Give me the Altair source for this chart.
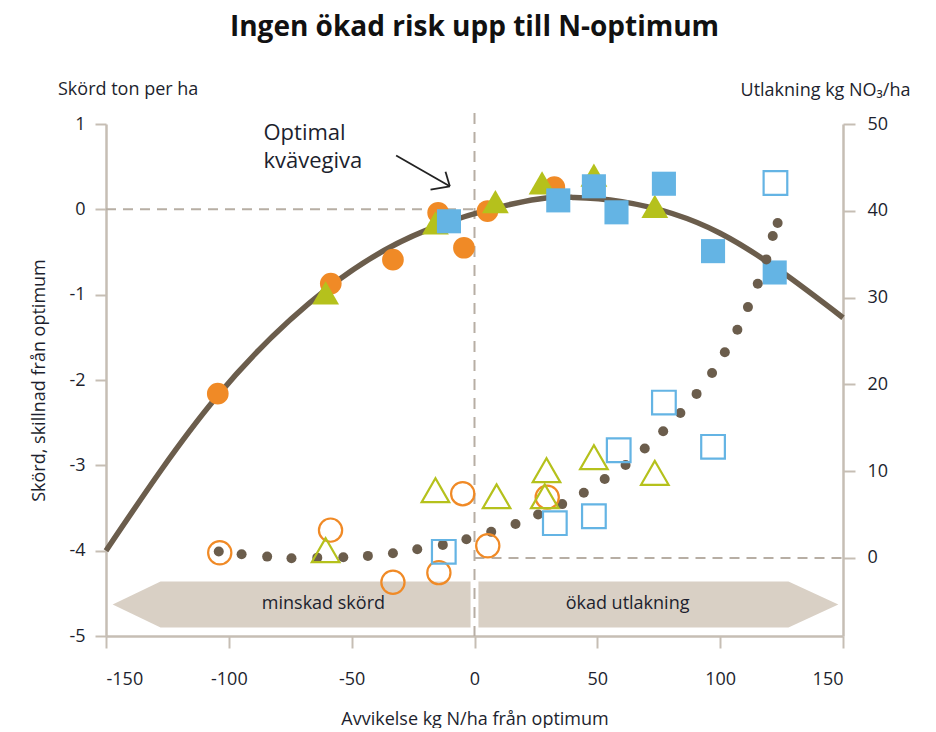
import altair as alt
import pandas as pd

# ---------------- data ----------------
# yield response curve (left axis, ton/ha difference from optimum)
curve_x = [-150, -105, -60, -20, 20, 40, 60, 100, 150]
curve_y = [-4.0, -2.2, -0.93, -0.25, 0.09, 0.14, 0.09, -0.28, -1.27]

# filled markers: yield (left axis)
orange_yield_x = [-104.5, -58.5, -33.2, -14.8, -4.3, 5.3, 32.5]
orange_yield_y = [-2.16, -0.87, -0.59, -0.04, -0.45, -0.02, 0.26]
green_yield_x = [-60.6, -15.9, 8.5, 27.5, 48.6, 73.4]
green_yield_y = [-0.98, -0.16, 0.09, 0.31, 0.40, 0.035]
blue_yield_x = [-10.4, 34.1, 48.6, 57.8, 77.1, 97.1, 122.2]
blue_yield_y = [-0.14, 0.105, 0.27, -0.035, 0.30, -0.49, -0.74]

# hollow markers: leaching (right axis, kg NO3/ha)
orange_leach_x = [-103.7, -58.6, -33.2, -14.5, -4.8, 5.4, 29.6]
orange_leach_y = [0.6, 3.2, -2.8, -1.7, 7.4, 1.4, 7.0]
green_leach_x = [-60.6, -15.9, 9.0, 29.3, 28.6, 48.6, 73.4]
green_leach_y = [0.9, 7.8, 7.1, 10.1, 7.1, 11.6, 9.8]
blue_leach_x = [-12.5, 32.7, 48.6, 58.7, 77.1, 97.1, 122.5]
blue_leach_y = [0.7, 4.0, 4.8, 12.4, 17.9, 12.8, 43.2]

# leaching model (dotted)
dots_x = [-104.1, -94.8, -84.4, -74.5, -64.0, -53.4, -43.4, -33.2, -23.3, -12.9, -3.3, 6.8,
          16.7, 25.9, 35.7, 44.5, 53.0, 61.5, 69.3, 76.8, 83.8, 90.4, 96.7, 101.9, 107.0,
          111.3, 115.3, 118.8, 121.4, 123.4]
dots_y = [0.73, 0.42, 0.15, -0.04, 0.03, 0.07, 0.23, 0.54, 1.0, 1.5, 2.15, 3.0,
          3.9, 5.0, 6.2, 7.5, 9.1, 10.7, 12.6, 14.6, 16.7, 18.9, 21.3, 23.7, 26.3,
          28.9, 31.6, 34.4, 37.1, 38.6]

# band arrows at the bottom
arrow_name = ["minskad", "minskad", "minskad", "okad", "okad", "okad"]
arrow_x = [-147.3, -127.8, -1.6, 1.6, 127.8, 148.1]
arrow_top = [-4.63, -4.36, -4.36, -4.36, -4.36, -4.63]
arrow_bot = [-4.63, -4.90, -4.90, -4.90, -4.90, -4.63]
arrow_labels = ["minskad skörd", "ökad utlakning"]
arrow_label_x = [-61.5, 62.3]
arrow_label_y = [-4.63, -4.63]

# annotation
note_text = ["Optimal\nkvävegiva"]
note_x = [-85.9]
note_y = [0.89]
pointer_x = [-31.9, -11.8, -17.9]
pointer_y = [0.63, 0.44, 0.23]
pointer_x2 = [-10.05, -10.05, -10.05]
pointer_y2 = [0.27, 0.27, 0.27]

x_ticks = [-150, -100, -50, 0, 50, 100, 150]
left_ticks = [-5, -4, -3, -2, -1, 0, 1]
right_ticks = [0, 10, 20, 30, 40, 50]

# ---------------- styling ----------------
ORANGE = "#f08a26"
GREEN = "#b5c11c"
BLUE = "#64b4e4"
BROWN = "#6b5d4c"
AXIS_C = "#c6beb4"
DASH_C = "#b7aea4"
BAND_C = "#d9d0c5"
TXT = "#1d1f2e"
FONT = "Open Sans"

xscale = alt.Scale(domain=[-150, 150], nice=False, zero=False)
lscale = alt.Scale(domain=[-5, 1], nice=False, zero=False)
rscale = alt.Scale(domain=[-9, 50], nice=False, zero=False)

xaxis = alt.Axis(values=x_ticks, title="Avvikelse kg N/ha från optimum", grid=False,
                 domainColor=AXIS_C, domainWidth=2.5, tickColor=AXIS_C, tickWidth=2,
                 tickSize=12, labelFontSize=18, labelColor=TXT, labelFont=FONT,
                 labelPadding=22, labelExpr="datum.value + ''",
                 titleFontSize=18, titleFontWeight="normal", titleColor=TXT,
                 titleFont=FONT, titlePadding=22)
laxis = alt.Axis(values=left_ticks, orient="left", title="Skörd, skillnad från optimum",
                 grid=False, domainColor=AXIS_C, domainWidth=2.5, tickColor=AXIS_C,
                 tickWidth=2, tickSize=11, labelFontSize=18, labelColor=TXT,
                 labelFont=FONT, labelPadding=10, labelExpr="datum.value + ''",
                 titleFontSize=18, titleFontWeight="normal", titleColor=TXT,
                 titleFont=FONT, titlePadding=20)
raxis = alt.Axis(values=right_ticks, orient="right", title="Utlakning kg NO₃/ha",
                 grid=False, domainColor=AXIS_C, domainWidth=2.5, tickColor=AXIS_C,
                 tickWidth=2, tickSize=12, labelFontSize=18, labelColor=TXT,
                 labelFont=FONT, labelPadding=12,
                 titleFontSize=18, titleFontWeight="normal", titleColor=TXT,
                 titleFont=FONT, titleAngle=0, titleAlign="right", titleBaseline="middle",
                 titleX=67, titleY=-34)


def X(f):
    return alt.X(f, type="quantitative", scale=xscale, axis=xaxis)


def YL(f):
    return alt.Y(f, type="quantitative", scale=lscale, axis=laxis)


def YR(f):
    return alt.Y(f, type="quantitative", scale=rscale, axis=raxis)


# ---------------- left-axis layer ----------------
band_df = pd.DataFrame({"name": arrow_name, "x": arrow_x, "top": arrow_top, "bot": arrow_bot})
bands = alt.Chart(band_df).mark_area(color=BAND_C, opacity=1).encode(
    x=X("x"), y=YL("top"), y2="bot", detail="name:N")

band_txt = alt.Chart(pd.DataFrame({"t": arrow_labels, "x": arrow_label_x, "y": arrow_label_y})).mark_text(
    font=FONT, fontSize=18, color=TXT, baseline="middle", align="center").encode(
    x=X("x"), y=YL("y"), text="t:N")

hdash = alt.Chart(pd.DataFrame({"x": [-150], "x2": [0], "y": [0]})).mark_rule(
    color=DASH_C, strokeWidth=2, strokeDash=[10, 7]).encode(x=X("x"), x2="x2", y=YL("y"))
vdash = alt.Chart(pd.DataFrame({"x": [0], "y": [1.13], "y2": [-5]})).mark_rule(
    color=DASH_C, strokeWidth=2, strokeDash=[11, 8]).encode(x=X("x"), y=YL("y"), y2="y2")

curve = alt.Chart(pd.DataFrame({"x": curve_x, "y": curve_y})).mark_line(
    color=BROWN, strokeWidth=5.5, interpolate="natural").encode(x=X("x"), y=YL("y"))


def filled(xs, ys, color, shape, size):
    return alt.Chart(pd.DataFrame({"x": xs, "y": ys})).mark_point(
        filled=True, color=color, shape=shape, size=size, opacity=1).encode(x=X("x"), y=YL("y"))


f_orange = filled(orange_yield_x, orange_yield_y, ORANGE, "circle", 470)
f_green = filled(green_yield_x, green_yield_y, GREEN, "triangle-up", 720)
f_blue = filled(blue_yield_x, blue_yield_y, BLUE, "square", 580)

note = alt.Chart(pd.DataFrame({"t": note_text, "x": note_x, "y": note_y})).mark_text(
    font=FONT, fontSize=22, color=TXT, align="left", baseline="middle",
    lineBreak="\n", lineHeight=28).encode(
    x=X("x"), y=YL("y"), text="t:N")
pointer = alt.Chart(pd.DataFrame({"x": pointer_x, "y": pointer_y, "x2": pointer_x2, "y2": pointer_y2})).mark_rule(
    color="#222222", strokeWidth=1.8).encode(x=X("x"), y=YL("y"), x2="x2", y2="y2")

unit_left = alt.Chart(pd.DataFrame({"t": ["Skörd ton per ha"]})).mark_text(
    font=FONT, fontSize=18, color=TXT, align="left", baseline="middle").encode(
    x=alt.value(-48), y=alt.value(-34), text="t:N")

left_layer = alt.layer(bands, band_txt, hdash, vdash, curve, f_orange, f_green, f_blue,
                       note, pointer, unit_left)

# ---------------- right-axis layer ----------------
rdash = alt.Chart(pd.DataFrame({"x": [0], "x2": [150], "v": [0]})).mark_rule(
    color=DASH_C, strokeWidth=2, strokeDash=[10, 7]).encode(x=X("x"), x2="x2", y=YR("v"))

dots = alt.Chart(pd.DataFrame({"x": dots_x, "v": dots_y})).mark_circle(
    color=BROWN, size=100, opacity=1).encode(x=X("x"), y=YR("v"))


def hollow(xs, ys, color, shape, size):
    return alt.Chart(pd.DataFrame({"x": xs, "v": ys})).mark_point(
        filled=False, color=color, shape=shape, size=size, strokeWidth=2.2, opacity=1).encode(
        x=X("x"), y=YR("v"))


h_orange = hollow(orange_leach_x, orange_leach_y, ORANGE, "circle", 540)
h_green = hollow(green_leach_x, green_leach_y, GREEN, "triangle-up", 760)
h_blue = hollow(blue_leach_x, blue_leach_y, BLUE, "square", 560)

right_layer = alt.layer(rdash, dots, h_orange, h_green, h_blue)

chart = alt.layer(left_layer, right_layer).resolve_scale(y="independent").properties(
    width=737, height=512,
    padding={"left": 22, "top": 6, "right": 5, "bottom": 0},
    title=alt.TitleParams("Ingen ökad risk upp till N-optimum", fontSize=28, fontWeight="bold",
                          font=FONT, color="#111111", anchor="middle", offset=39),
).configure_view(stroke=None)

chart.save("out.html", embed_options={"renderer": "svg", "actions": False})
